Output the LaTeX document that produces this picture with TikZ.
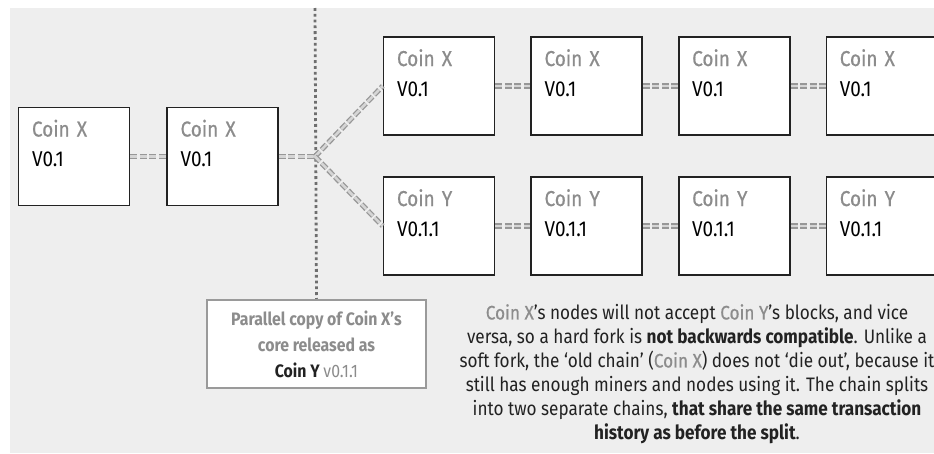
\documentclass[tikz,border=0pt]{standalone}
\usepackage{fontspec}
\setmainfont{Fira Sans}[FakeStretch=0.88]
\newfontfamily\labelfont{Fira Sans}[FakeStretch=0.88, FakeBold=0.6]
\usetikzlibrary{positioning}

\definecolor{bggrey}{HTML}{EEEEEE}
\definecolor{labelgrey}{HTML}{8C8C8C}
\definecolor{boxline}{HTML}{222222}
\definecolor{linkgrey}{HTML}{B2B2B2}
\definecolor{dotgrey}{HTML}{6E6E6E}
\definecolor{notegrey}{HTML}{9A9A9A}

\newcommand{\coin}[1]{{\labelfont\color{labelgrey}Coin #1}}

\begin{document}
\begin{tikzpicture}[x=1pt,y=-1pt,
  block/.style={draw=boxline, line width=1.6pt, fill=white, inner sep=0pt,
    minimum width=111pt, minimum height=98pt, text width=84pt, align=left,
    text height=29pt, text depth=69pt, font=\fontsize{21.5}{30}\selectfont},
  link/.style={draw=linkgrey!85!black, line width=1.3pt, double=linkgrey!55!white,
    double distance=2.6pt, dash pattern=on 7pt off 2.5pt},
  split/.style={draw=dotgrey, line width=2.8pt, dash pattern=on 2.8pt off 3pt},
  note/.style={draw=notegrey, line width=2.5pt, fill=white, minimum width=219pt,
    minimum height=88pt, align=center, text=labelgrey,
    font=\fontsize{18}{26}\selectfont\bfseries},
  caption/.style={align=center, text=boxline, font=\fontsize{19.5}{24}\selectfont}]
  \useasboundingbox (0,0) rectangle (934,453);
  \fill[bggrey] (10,8) rectangle (934,453);

  \node[block] (a1) at (74,156.5) {\coin{X}\\V0.1};
  \node[block, right=36pt of a1] (b1) {\coin{X}\\V0.1};

  \node[block] (x1) at (439,86) {\coin{X}\\V0.1};
  \node[block, right=35pt of x1] (x2) {\coin{X}\\V0.1};
  \node[block, right=35pt of x2] (x3) {\coin{X}\\V0.1};
  \node[block, right=35pt of x3] (x4) {\coin{X}\\V0.1};

  \node[block] (y1) at (439,226) {\coin{Y}\\V0.1.1};
  \node[block, right=35pt of y1] (y2) {\coin{Y}\\V0.1.1};
  \node[block, right=35pt of y2] (y3) {\coin{Y}\\V0.1.1};
  \node[block, right=35pt of y3] (y4) {\coin{Y}\\V0.1.1};

  \node[note] (copy) at (316.5,344) {Parallel copy of Coin X's\\core released as\\
    \textcolor{boxline}{Coin Y} \mdseries v0.1.1};

  \node[caption] (text) at (697,374) {\coin{X}'s nodes will not accept \coin{Y}'s blocks, and vice\\
    versa, so a hard fork is \textbf{not backwards compatible}. Unlike a\\
    soft fork, the `old chain' (\coin{X}) does not `die out', because it\\
    still has enough miners and nodes using it. The chain splits\\
    into two separate chains, \textbf{that share the same transaction}\\
    \textbf{history as before the split}.};

  \coordinate (fork) at (315,156.5);
  \coordinate (top) at (315,8);
  \draw[split] (top) -- (copy.north);

  \draw[link] (a1) -- (b1);
  \draw[link] (b1) -- (fork);
  \draw[link] (fork) -- (x1.west);
  \draw[link] (fork) -- (y1.west);
  \draw[link] (x1) -- (x2);
  \draw[link] (x2) -- (x3);
  \draw[link] (x3) -- (x4);
  \draw[link] (y1) -- (y2);
  \draw[link] (y2) -- (y3);
  \draw[link] (y3) -- (y4);
\end{tikzpicture}
\end{document}
